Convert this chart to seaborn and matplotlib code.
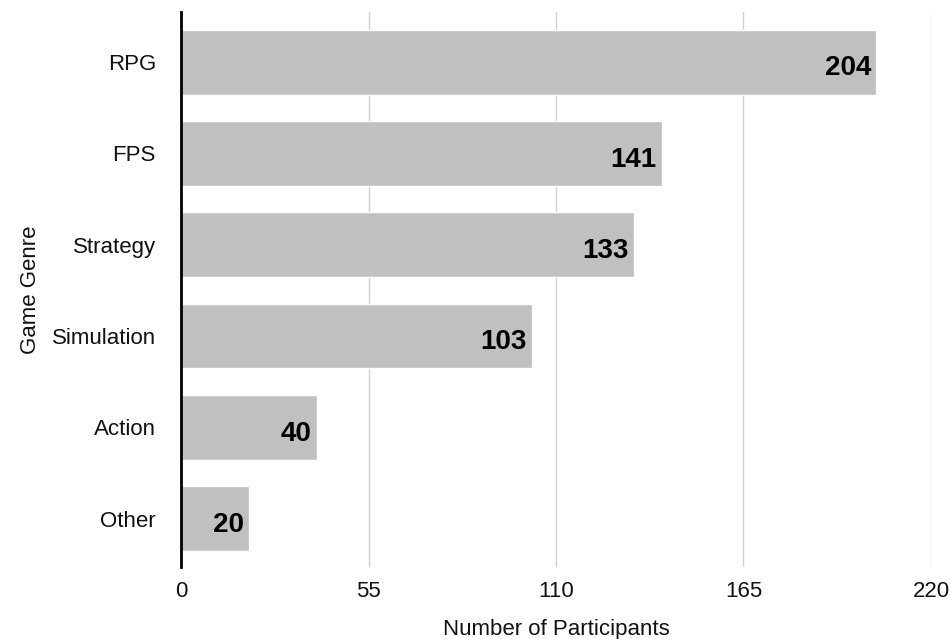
import matplotlib
matplotlib.use("Agg")
import matplotlib.pyplot as plt
import seaborn as sns
import pandas as pd

genres = ["RPG", "FPS", "Strategy", "Simulation", "Action", "Other"]
participants = [204, 141, 133, 103, 40, 20]
x_ticks = [0, 55, 110, 165, 220]

sns.set_theme(style="white")
plt.rcParams["font.family"] = ["Liberation Sans", "DejaVu Sans"]

df = pd.DataFrame({"Game Genre": genres, "Number of Participants": participants})

fig = plt.figure(figsize=(9.5, 6.39), dpi=100)
ax = fig.add_axes([181/950, 1-567/639, (931-181)/950, (567-12)/639])

sns.barplot(data=df, x="Number of Participants", y="Game Genre", color="#c0c0c0",
            saturation=1, width=0.71, ax=ax, orient="h")

for i, v in enumerate(participants):
    ax.annotate(str(v), xy=(v, i), xytext=(-4, -4.5), textcoords="offset points",
                ha="right", va="center", fontsize=20, fontweight="bold", color="black")

ax.set_xlim(0, 220)
ax.set_ylim(5.53, -0.55)
ax.set_xticks(x_ticks)
ax.set_xticklabels([str(t) for t in x_ticks])
ax.grid(axis="x", color="#d0d0d0", linewidth=1)
ax.set_axisbelow(True)
for s in ["top", "right", "bottom"]:
    ax.spines[s].set_visible(False)
ax.spines["left"].set_color("black")
ax.spines["left"].set_linewidth(2)
ax.spines["left"].set_zorder(5)
ax.tick_params(axis="both", length=0, labelsize=16, colors="#111111")
ax.tick_params(axis="x", pad=10)
ax.tick_params(axis="y", pad=18)
ax.set_xlabel("Number of Participants", fontsize=16, color="#111111")
ax.set_ylabel("Game Genre", fontsize=16, color="#111111")
ax.xaxis.set_label_coords(0.5, -0.093)
ax.yaxis.set_label_coords(-0.2, 0.5)
ax.yaxis.label.set_va("center")

fig.savefig("out.png", dpi=100)
